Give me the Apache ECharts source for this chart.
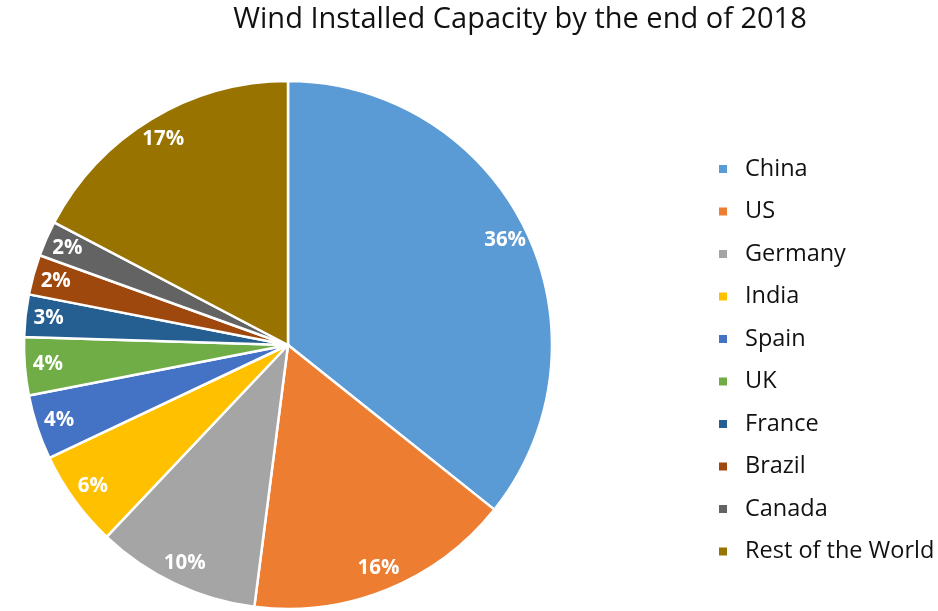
<!DOCTYPE html>
<html><head><meta charset="utf-8">
<script src="https://cdn.jsdelivr.net/npm/echarts@6/dist/echarts.min.js"></script>
<style>html,body{margin:0;padding:0;background:#fff}#c{width:938px;height:611px}</style>
</head><body><div id="c"></div>
<script>
const categories = ['China','US','Germany','India','Spain','UK','France','Brazil','Canada','Rest of the World'];
const capacityGW = [211.4, 96.6, 59.3, 35.0, 23.5, 21.0, 15.3, 14.5, 12.8, 102.5];
const colors = ['#5B9BD5','#ED7D31','#A5A5A5','#FFC000','#4472C4','#70AD47','#255E91','#9E480E','#636363','#997300'];
const FONT = 'Open Sans';
const data = categories.map((n,i)=>({name:n, value:capacityGW[i], itemStyle:{color:colors[i]}}));
const chart = echarts.init(document.getElementById('c'));
chart.setOption({
  animation:false,
  title:{text:'Wind Installed Capacity by the end of 2018', left:515, top:0, textAlign:'center',
    textStyle:{fontFamily:FONT, fontSize:29, fontWeight:'normal', color:'#111'}},
  legend:{orient:'vertical', left:712, top:152, itemWidth:10, itemHeight:10, itemGap:18.5,
    icon:'rect', selectedMode:false, data:categories,
    textStyle:{fontFamily:FONT, fontSize:23.5, color:'#111', padding:[0,0,0,12]}},
  series:[{
    type:'pie', center:[288,345], radius:[0,264], startAngle:90, clockwise:true,
    data:data, label:{show:false}, labelLine:{show:false},
    itemStyle:{borderColor:'#fff', borderWidth:2.5}, silent:true
  },{
    type:'pie', center:[288,345], radius:[206,270], startAngle:90, clockwise:true,
    data:data.map(d=>({name:d.name, value:d.value})), silent:true,
    itemStyle:{color:'rgba(0,0,0,0)', borderWidth:0},
    labelLine:{show:false},
    label:{show:true, position:'inside', color:'#fff', fontFamily:FONT, fontSize:20.5, fontWeight:'bold',
      formatter:p=>Math.round(p.percent)+'%'}
  }]
});
</script></body></html>
